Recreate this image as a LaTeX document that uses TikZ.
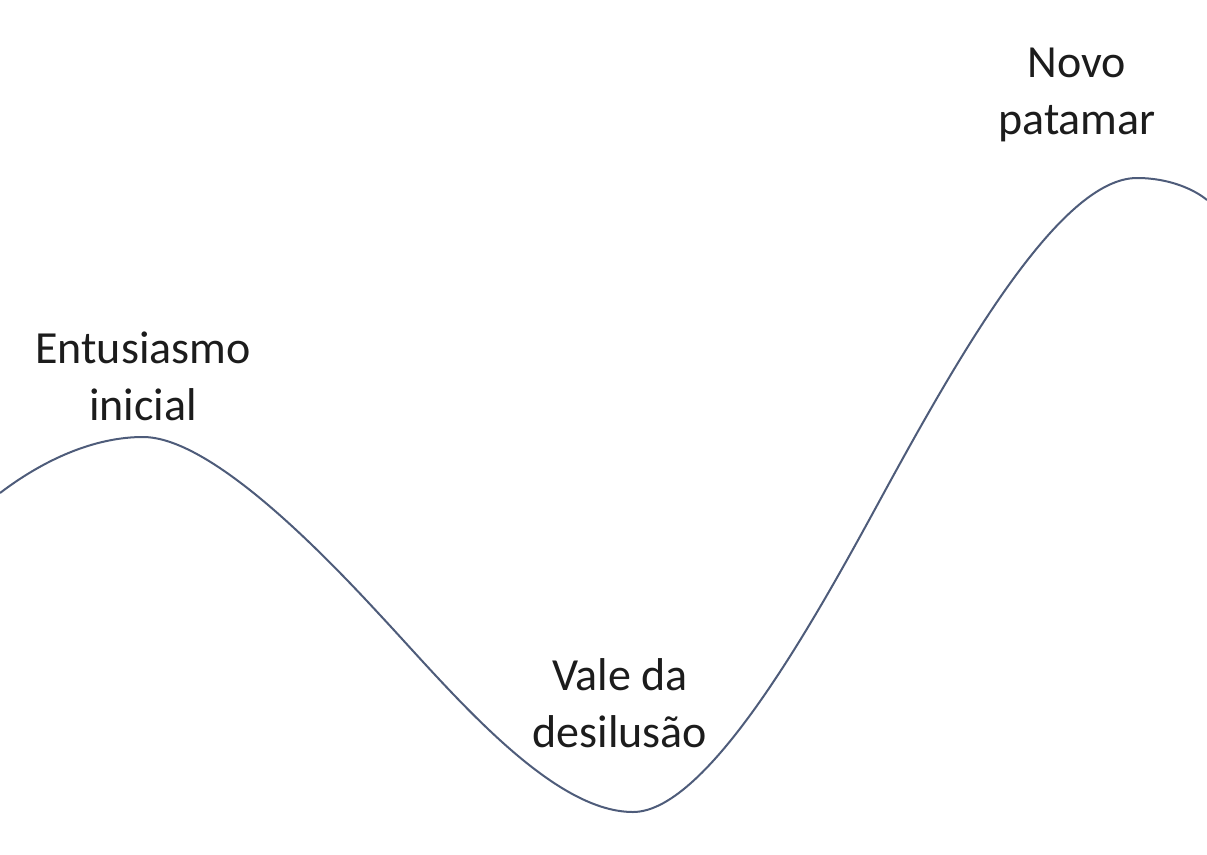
\documentclass[tikz,border=0pt]{standalone}
\usepackage{fontspec}
\setmainfont{Carlito}
\definecolor{curvecol}{RGB}{78,92,122}
\definecolor{txtcol}{RGB}{28,28,28}
\begin{document}
\begin{tikzpicture}[x=1pt,y=-1pt,
  lbl/.style={align=center,inner sep=0pt,anchor=base,text=txtcol,font=\fontsize{46}{57}\selectfont},
  curve/.style={draw=curvecol,line width=2pt}]
\useasboundingbox (0,0) rectangle (1207,854);
\coordinate (s) at (0,493);
\coordinate (p1) at (143,437);
\coordinate (i1) at (380,615);
\coordinate (t) at (633,812);
\coordinate (i2) at (880,500);
\coordinate (p2) at (1137,178);
\coordinate (e) at (1207,200);
\draw[curve] (s) .. controls (50,455) and (100,437) .. (p1)
  .. controls (210,437) and (320,550) .. (i1)
  .. controls (450,690) and (550,812) .. (t)
  .. controls (710,812) and (820,610) .. (i2)
  .. controls (960,353) and (1060,178) .. (p2)
  .. controls (1170,178) and (1195,190) .. (e);
\node[lbl] (a) at (143,420) {Entusiasmo\\inicial};
\node[lbl] (b) at (620,747) {Vale da\\desilusão};
\node[lbl] (c) at (1077,134) {Novo\\patamar};
\end{tikzpicture}
\end{document}
